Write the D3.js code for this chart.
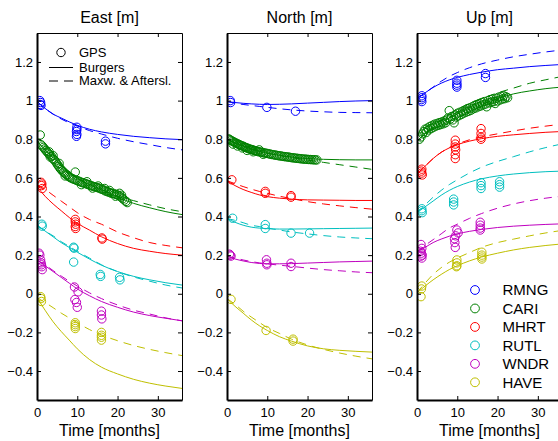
<!DOCTYPE html>
<html>
<head>
<meta charset="utf-8">
<script src="https://cdn.jsdelivr.net/npm/d3@7"></script>
<style>
body { margin: 0; background: #fff; }
</style>
</head>
<body>
<div id="container"></div>
<script>
var WIDTH = 558,
	HEIGHT = 441,
	PANEL_LEFT = [37, 227, 417],
	PANEL_WIDTH = 145,
	TOP = 33,
	BOTTOM = 400,
	FONT = '"Liberation Sans", Arial, Helvetica, sans-serif';

var stations = ['RMNG', 'CARI', 'MHRT', 'RUTL', 'WNDR', 'HAVE'];
var colors = ['#0000ff', '#008000', '#ff0000', '#00bfbf', '#bf00bf', '#bfbf00'];
var titles = ['East [m]', 'North [m]', 'Up [m]'];
var xTicks = [0, 10, 20, 30];
var yTicks = [-0.4, -0.2, 0, 0.2, 0.4, 0.6, 0.8, 1, 1.2];

// model curves, sampled at these months
var curveTimes = [0, 2, 4, 6, 8, 10, 13, 16, 20, 24, 28, 32, 36];

var eastBurgers = [
	[0.995, 0.96, 0.93, 0.91, 0.89, 0.872, 0.852, 0.838, 0.825, 0.815, 0.808, 0.802, 0.798],
	[0.79, 0.745, 0.705, 0.665, 0.628, 0.598, 0.565, 0.54, 0.5, 0.468, 0.445, 0.425, 0.41],
	[0.555, 0.505, 0.465, 0.43, 0.395, 0.365, 0.33, 0.295, 0.26, 0.235, 0.22, 0.208, 0.2],
	[0.355, 0.325, 0.295, 0.265, 0.24, 0.215, 0.18, 0.148, 0.115, 0.09, 0.072, 0.057, 0.045],
	[0.175, 0.145, 0.115, 0.085, 0.055, 0.025, -0.01, -0.04, -0.07, -0.095, -0.113, -0.127, -0.14],
	[-0.02, -0.085, -0.145, -0.195, -0.24, -0.285, -0.34, -0.38, -0.415, -0.443, -0.463, -0.478, -0.49]
];
var eastMaxwell = [
	[0.995, 0.96, 0.93, 0.905, 0.885, 0.868, 0.845, 0.827, 0.805, 0.787, 0.772, 0.757, 0.745],
	[0.79, 0.745, 0.705, 0.665, 0.628, 0.598, 0.565, 0.54, 0.505, 0.482, 0.46, 0.44, 0.425],
	[0.56, 0.54, 0.51, 0.48, 0.45, 0.42, 0.385, 0.36, 0.32, 0.29, 0.265, 0.25, 0.238],
	[0.355, 0.325, 0.3, 0.27, 0.245, 0.22, 0.185, 0.15, 0.115, 0.087, 0.065, 0.045, 0.03],
	[0.175, 0.15, 0.12, 0.092, 0.065, 0.04, 0.005, -0.025, -0.058, -0.085, -0.105, -0.125, -0.14],
	[-0.02, -0.045, -0.072, -0.1, -0.125, -0.15, -0.185, -0.213, -0.243, -0.268, -0.288, -0.305, -0.32]
];
var northBurgers = [
	[0.995, 0.99, 0.986, 0.983, 0.981, 0.98, 0.981, 0.983, 0.987, 0.991, 0.995, 0.998, 1.0],
	[0.8, 0.78, 0.765, 0.75, 0.738, 0.728, 0.717, 0.708, 0.7, 0.696, 0.694, 0.693, 0.693],
	[0.585, 0.56, 0.54, 0.525, 0.512, 0.503, 0.495, 0.49, 0.486, 0.485, 0.484, 0.483, 0.483],
	[0.39, 0.37, 0.355, 0.345, 0.34, 0.337, 0.335, 0.335, 0.336, 0.337, 0.338, 0.339, 0.34],
	[0.195, 0.18, 0.17, 0.162, 0.157, 0.155, 0.155, 0.156, 0.159, 0.162, 0.165, 0.167, 0.169],
	[-0.025, -0.065, -0.1, -0.135, -0.165, -0.19, -0.222, -0.245, -0.27, -0.285, -0.293, -0.298, -0.302]
];
var northMaxwell = [
	[0.995, 0.987, 0.98, 0.975, 0.97, 0.965, 0.958, 0.952, 0.946, 0.942, 0.939, 0.938, 0.937],
	[0.8, 0.782, 0.765, 0.75, 0.738, 0.728, 0.716, 0.705, 0.692, 0.68, 0.668, 0.656, 0.644],
	[0.585, 0.57, 0.555, 0.542, 0.53, 0.52, 0.505, 0.493, 0.477, 0.465, 0.455, 0.446, 0.438],
	[0.39, 0.38, 0.368, 0.355, 0.348, 0.34, 0.33, 0.32, 0.31, 0.301, 0.294, 0.289, 0.285],
	[0.195, 0.185, 0.175, 0.167, 0.16, 0.155, 0.148, 0.142, 0.133, 0.125, 0.119, 0.113, 0.109],
	[-0.025, -0.055, -0.09, -0.12, -0.148, -0.175, -0.205, -0.235, -0.265, -0.288, -0.307, -0.323, -0.337]
];
var upBurgers = [
	[1.01, 1.04, 1.068, 1.09, 1.107, 1.12, 1.135, 1.147, 1.16, 1.168, 1.176, 1.182, 1.187],
	[0.79, 0.83, 0.86, 0.885, 0.91, 0.93, 0.955, 0.98, 1.01, 1.035, 1.05, 1.062, 1.07],
	[0.62, 0.66, 0.7, 0.732, 0.755, 0.772, 0.79, 0.803, 0.815, 0.823, 0.83, 0.836, 0.84],
	[0.42, 0.45, 0.48, 0.51, 0.535, 0.555, 0.578, 0.595, 0.61, 0.62, 0.627, 0.632, 0.635],
	[0.215, 0.24, 0.265, 0.283, 0.298, 0.31, 0.323, 0.333, 0.343, 0.35, 0.355, 0.359, 0.362],
	[0.005, 0.04, 0.072, 0.1, 0.125, 0.145, 0.17, 0.19, 0.21, 0.227, 0.24, 0.25, 0.258]
];
var upMaxwell = [
	[1.01, 1.04, 1.07, 1.1, 1.125, 1.145, 1.17, 1.19, 1.21, 1.227, 1.24, 1.252, 1.262],
	[0.79, 0.83, 0.87, 0.9, 0.93, 0.955, 0.985, 1.01, 1.04, 1.065, 1.09, 1.108, 1.125],
	[0.62, 0.66, 0.7, 0.732, 0.757, 0.775, 0.797, 0.812, 0.828, 0.843, 0.857, 0.868, 0.878],
	[0.42, 0.46, 0.5, 0.535, 0.565, 0.59, 0.625, 0.655, 0.685, 0.71, 0.735, 0.757, 0.776],
	[0.215, 0.25, 0.28, 0.31, 0.34, 0.36, 0.39, 0.415, 0.443, 0.465, 0.482, 0.495, 0.505],
	[0.005, 0.055, 0.1, 0.135, 0.163, 0.185, 0.213, 0.24, 0.265, 0.283, 0.3, 0.315, 0.328]
];

// GPS observations [month, metres]
var eastCari = [[0.8,0.822],[1.0,0.772],[1.3,0.765],[1.6,0.758],[1.9,0.75],[2.2,0.742],[2.5,0.735],[2.8,0.728],
	[3.0,0.735],[3.1,0.72],[3.3,0.708],[3.6,0.712],[3.9,0.7],[4.0,0.715],[4.2,0.695],[4.5,0.688],[4.8,0.678],
	[5.1,0.668],[5.4,0.66],[5.5,0.675],[5.7,0.65],[6.0,0.643],[6.3,0.636],[6.6,0.63],[6.9,0.624],[7.0,0.61],
	[7.2,0.618],[7.5,0.615],[7.8,0.608],[8.1,0.604],[8.4,0.6],[8.8,0.596],[9.2,0.592],[9.5,0.63],[9.7,0.588],
	[10.1,0.585],[10.5,0.582],[10.9,0.578],[11.0,0.565],[11.3,0.575],[11.7,0.573],[12.1,0.57],[12.4,0.58],
	[12.5,0.567],[12.9,0.564],[13.3,0.56],[13.7,0.558],[13.8,0.547],[14.1,0.555],[14.5,0.553],[14.9,0.55],
	[15.2,0.558],[15.3,0.548],[15.7,0.544],[16.1,0.541],[16.5,0.538],[16.8,0.545],[16.9,0.533],[17.3,0.53],
	[17.7,0.527],[18.0,0.535],[18.1,0.524],[18.5,0.52],[18.9,0.52],[19.3,0.516],[19.5,0.505],[19.7,0.514],
	[20.1,0.51],[20.5,0.52],[20.5,0.506],[20.9,0.5],[21.0,0.51],[21.3,0.492],[21.7,0.485],[22.1,0.478],[22.4,0.472]];
var northCari = [[0.4,0.802],[0.7,0.798],[1.0,0.794],[1.3,0.79],[1.5,0.775],[1.6,0.787],[1.9,0.784],[2.2,0.78],
	[2.5,0.778],[2.6,0.765],[2.8,0.774],[3.1,0.772],[3.4,0.768],[3.7,0.766],[3.8,0.755],[4.0,0.764],[4.3,0.76],
	[4.6,0.758],[4.9,0.755],[5.0,0.742],[5.2,0.753],[5.5,0.75],[5.8,0.748],[6.1,0.747],[6.4,0.745],[6.5,0.735],
	[6.7,0.742],[7.0,0.741],[7.3,0.739],[7.6,0.737],[7.9,0.735],[8.0,0.745],[8.3,0.734],[8.7,0.732],[9.0,0.722],
	[9.1,0.73],[9.5,0.728],[9.9,0.727],[10.3,0.725],[10.7,0.723],[11.1,0.721],[11.5,0.72],[11.9,0.718],
	[12.3,0.717],[12.7,0.715],[13.1,0.714],[13.5,0.713],[13.9,0.711],[14.3,0.71],[14.7,0.709],[15.1,0.708],
	[15.5,0.707],[15.9,0.705],[16.3,0.704],[16.7,0.703],[17.1,0.702],[17.5,0.701],[17.9,0.7],[18.3,0.699],
	[18.7,0.698],[19.1,0.697],[19.5,0.697],[19.9,0.696],[20.3,0.695],[20.7,0.695],[21.1,0.694],[21.5,0.694],
	[21.9,0.693],[22.3,0.693]];
var upCari = [[0.6,0.8],[1.0,0.812],[1.4,0.828],[1.7,0.84],[2.0,0.852],[2.3,0.835],[2.6,0.858],[2.9,0.848],
	[3.2,0.866],[3.5,0.855],[3.8,0.872],[4.1,0.862],[4.4,0.878],[4.7,0.868],[5.0,0.882],[5.3,0.872],[5.6,0.886],
	[5.9,0.876],[6.2,0.89],[6.5,0.88],[6.8,0.895],[7.1,0.885],[7.4,0.9],[7.7,0.91],[8.0,0.948],[8.3,0.905],
	[8.6,0.918],[8.9,0.9],[9.2,0.885],[9.5,0.925],[9.8,0.915],[10.1,0.935],[10.4,0.922],[10.7,0.94],[11.0,0.928],
	[11.3,0.945],[11.6,0.935],[11.9,0.95],[12.2,0.94],[12.5,0.958],[12.8,0.945],[13.1,0.962],[13.4,0.95],
	[13.7,0.968],[14.0,0.958],[14.3,0.975],[14.6,0.962],[14.9,0.98],[15.2,0.968],[15.5,0.985],[15.8,0.972],
	[16.1,0.99],[16.4,0.978],[16.7,0.995],[17.0,0.982],[17.3,0.968],[17.6,1.0],[17.9,0.988],[18.2,1.005],
	[18.5,0.992],[18.8,1.008],[19.1,0.995],[19.4,0.985],[19.7,1.012],[20.0,0.998],[20.3,1.018],[20.6,1.003],
	[20.9,1.022],[21.2,1.008],[21.5,1.025],[21.8,1.01],[22.1,1.02],[22.5,1.015]];

var eastGps = [
	[[0.7,1.0],[0.9,0.99],[0.8,0.98],[1.0,0.975],[9.9,0.862],[9.9,0.85],[9.8,0.84],[9.9,0.825],[9.8,0.815],[17.0,0.79],[17.0,0.776]],
	eastCari,
	[[1.0,0.577],[1.2,0.568],[1.1,0.56],[1.3,0.545],[9.5,0.385],[9.5,0.372],[9.6,0.36],[9.5,0.348],[9.6,0.338],[16.1,0.289],[16.2,0.283]],
	[[1.2,0.36],[1.3,0.35],[9.1,0.241],[9.2,0.236],[9.1,0.164],[15.7,0.1],[15.8,0.09],[20.5,0.085],[20.6,0.072]],
	[[0.5,0.21],[0.7,0.2],[0.9,0.175],[1.0,0.16],[1.1,0.15],[1.2,0.14],[1.3,0.125],[9.3,0.035],[10.2,0.01],[9.4,-0.03],[9.8,-0.045],[10.0,-0.07],[16.0,-0.09],[16.0,-0.11],[16.1,-0.13]],
	[[0.9,-0.015],[1.0,-0.025],[1.1,-0.04],[9.5,-0.15],[9.5,-0.16],[9.5,-0.17],[9.5,-0.18],[16.0,-0.2],[16.0,-0.215],[16.0,-0.225],[16.0,-0.24]]
];
var northGps = [
	[[0.8,1.0],[0.9,0.99],[9.9,0.965],[17.0,0.945]],
	northCari,
	[[1.2,0.59],[9.5,0.53],[9.5,0.52],[15.9,0.508],[15.9,0.5]],
	[[1.4,0.391],[9.5,0.358],[9.5,0.338],[15.9,0.314],[20.5,0.314]],
	[[0.6,0.205],[0.8,0.2],[1.0,0.195],[9.8,0.176],[9.9,0.158],[9.9,0.15],[15.9,0.158],[15.9,0.141]],
	[[1.0,-0.029],[9.7,-0.19],[16.4,-0.235],[16.4,-0.245]]
];
var upGps = [
	[[1.2,1.025],[1.2,1.015],[1.1,1.005],[1.2,0.995],[9.9,1.105],[9.9,1.09],[9.9,1.08],[9.9,1.07],[17.0,1.14],[17.0,1.12]],
	upCari,
	[[1.2,0.645],[1.1,0.635],[1.2,0.625],[1.3,0.615],[9.5,0.795],[9.5,0.775],[9.5,0.76],[9.6,0.745],[9.5,0.72],[9.5,0.7],[15.9,0.855],[15.9,0.83],[15.9,0.81],[15.9,0.8]],
	[[1.2,0.44],[1.2,0.43],[1.3,0.42],[9.1,0.49],[9.1,0.475],[9.1,0.46],[15.9,0.575],[15.9,0.56],[15.9,0.545],[20.5,0.58],[20.5,0.565],[20.5,0.552]],
	[[1.0,0.255],[1.2,0.235],[0.9,0.22],[1.1,0.21],[1.3,0.2],[1.0,0.195],[1.2,0.185],[9.9,0.33],[10.2,0.315],[9.6,0.3],[9.3,0.285],[9.4,0.265],[9.5,0.24],[15.7,0.37],[15.7,0.355],[15.7,0.34],[15.7,0.33]],
	[[1.2,0.04],[1.1,0.025],[1.0,-0.015],[9.9,0.175],[9.9,0.16],[9.9,0.145],[9.8,0.14],[16.1,0.215],[16.1,0.2],[16.1,0.19],[16.1,0.18]]
];

var translate = function (x, y) {
	return "translate(" + x + "," + y + ")";
};

function styleAxis(g, width) {
	g.attr('font-family', FONT).attr('font-size', 13);
	g.selectAll('text').attr('fill', '#000');
	g.selectAll('line').attr('stroke', '#000');
	g.select('.domain').attr('stroke', '#000').attr('stroke-width', width);
}

function drawPanel(svg, idx, burgers, maxwell, gps) {
	var left = PANEL_LEFT[idx];
	var x = d3.scaleLinear().domain([0, 36]).range([left, left + PANEL_WIDTH]);
	var y = d3.scaleLinear().domain([-0.55, 1.35]).range([BOTTOM, TOP]);

	var clipId = 'clip' + idx;
	svg.append('clipPath').attr('id', clipId)
		.append('rect')
		.attr('x', left).attr('y', TOP)
		.attr('width', PANEL_WIDTH).attr('height', BOTTOM - TOP);

	var plot = svg.append('g').attr('clip-path', 'url(#' + clipId + ')');

	var line = d3.line()
		.x(function (d, i) { return x(curveTimes[i]); })
		.y(function (d) { return y(d); })
		.curve(d3.curveMonotoneX);

	stations.forEach(function (s, k) {
		plot.append('path')
			.attr('d', line(maxwell[k]))
			.attr('fill', 'none')
			.attr('stroke', colors[k])
			.attr('stroke-width', 1)
			.attr('stroke-dasharray', '8,6');
		plot.append('path')
			.attr('d', line(burgers[k]))
			.attr('fill', 'none')
			.attr('stroke', colors[k])
			.attr('stroke-width', 1);
	});

	stations.forEach(function (s, k) {
		plot.selectAll('circle.s' + k).data(gps[k]).enter()
			.append('circle')
			.attr('class', 's' + k)
			.attr('cx', function (d) { return x(d[0]); })
			.attr('cy', function (d) { return y(d[1]); })
			.attr('r', 4.2)
			.attr('fill', 'none')
			.attr('stroke', colors[k])
			.attr('stroke-width', 1);
	});

	// axes, ticks pointing inwards on all four sides
	var gl = svg.append('g').attr('transform', translate(left, 0))
		.call(d3.axisLeft(y).tickValues(yTicks).tickSizeInner(-4).tickSizeOuter(0).tickPadding(4)
			.tickFormat(d3.format('')));
	styleAxis(gl, 2);
	var gr = svg.append('g').attr('transform', translate(left + PANEL_WIDTH, 0))
		.call(d3.axisRight(y).tickValues(yTicks).tickSizeInner(-4).tickSizeOuter(0).tickFormat(''));
	styleAxis(gr, 1);
	var gb = svg.append('g').attr('transform', translate(0, BOTTOM))
		.call(d3.axisBottom(x).tickValues(xTicks).tickSizeInner(-4).tickSizeOuter(0).tickPadding(8)
			.tickFormat(d3.format('')));
	styleAxis(gb, 2);
	var gt = svg.append('g').attr('transform', translate(0, TOP))
		.call(d3.axisTop(x).tickValues(xTicks).tickSizeInner(-4).tickSizeOuter(0).tickFormat(''));
	styleAxis(gt, 1);

	svg.append('text')
		.attr('x', left + PANEL_WIDTH / 2).attr('y', 23)
		.attr('text-anchor', 'middle')
		.attr('font-family', FONT).attr('font-size', 16)
		.text(titles[idx]);
	svg.append('text')
		.attr('x', left + PANEL_WIDTH / 2).attr('y', 436)
		.attr('text-anchor', 'middle')
		.attr('font-family', FONT).attr('font-size', 16)
		.text('Time [months]');
}

function drawModelLegend(svg) {
	var g = svg.append('g').attr('font-family', FONT).attr('font-size', 13);
	g.append('circle').attr('cx', 61).attr('cy', 52.5).attr('r', 4.2)
		.attr('fill', 'none').attr('stroke', '#000').attr('stroke-width', 1);
	g.append('text').attr('x', 79).attr('y', 57).text('GPS');
	g.append('line').attr('x1', 49).attr('x2', 73).attr('y1', 67.5).attr('y2', 67.5)
		.attr('stroke', '#000').attr('stroke-width', 1);
	g.append('text').attr('x', 79).attr('y', 71.7).text('Burgers');
	g.append('line').attr('x1', 49).attr('x2', 73).attr('y1', 81).attr('y2', 81)
		.attr('stroke', '#000').attr('stroke-width', 1).attr('stroke-dasharray', '9,6');
	g.append('text').attr('x', 79).attr('y', 85.3).text('Maxw. & Aftersl.');
}

function drawStationLegend(svg) {
	var ly = d3.scalePoint().domain(stations).range([290, 382.3]);
	var g = svg.append('g').attr('font-family', FONT).attr('font-size', 15);
	stations.forEach(function (s, k) {
		g.append('circle').attr('cx', 475).attr('cy', ly(s)).attr('r', 4.4)
			.attr('fill', 'none').attr('stroke', colors[k]).attr('stroke-width', 1);
		g.append('text').attr('x', 502.5).attr('y', ly(s) + 5.3).text(s);
	});
}

function visualize() {
	var svg = d3.select('#container')
		.append('svg')
		.attr('width', WIDTH)
		.attr('height', HEIGHT)
		.style('display', 'block')
		.style('background', '#fff');
	drawPanel(svg, 0, eastBurgers, eastMaxwell, eastGps);
	drawPanel(svg, 1, northBurgers, northMaxwell, northGps);
	drawPanel(svg, 2, upBurgers, upMaxwell, upGps);
	drawModelLegend(svg);
	drawStationLegend(svg);
}

window.onload = visualize;
</script>
</body>
</html>
